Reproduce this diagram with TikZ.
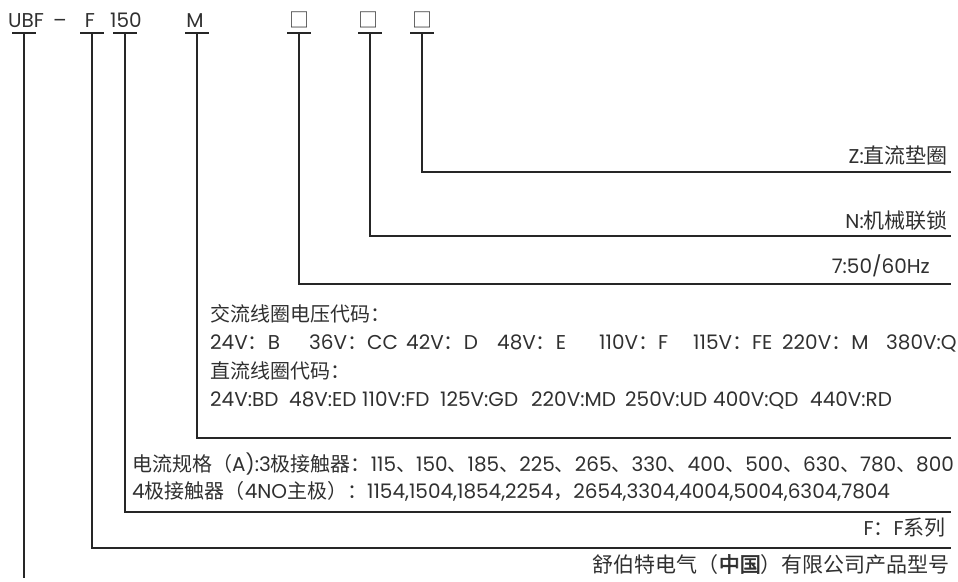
\documentclass[tikz,border=0pt]{standalone}
\usepackage{fontspec}
\setmainfont{Poppins}
\newfontfamily\cjk{Noto Sans CJK SC}
\newfontfamily\cjkL[Scale=1.05]{Noto Sans CJK SC}
\newfontfamily\cjkb[FakeBold=2.5,Scale=1.05]{Noto Sans CJK SC}
\newcommand{\zh}[1]{{\cjk #1}}
\newcommand{\zhL}[1]{{\cjkL #1}}
\newcommand{\zhb}[1]{{\cjkb #1}}
\definecolor{ink}{HTML}{262626}
\definecolor{txt}{HTML}{303030}
\begin{document}
\begin{tikzpicture}[x=1pt,y=-1pt,
  lbl/.style={inner sep=0pt,text=txt,font=\fontsize{20}{24}\selectfont},
  toplbl/.style={lbl,anchor=base},
  rlbl/.style={lbl,anchor=base east},
  llbl/.style={lbl,anchor=base west},
  wire/.style={draw=ink,line width=2.8pt},
  bar/.style={draw=ink,line width=2.8pt}]
\useasboundingbox (0,0) rectangle (958,581);
% top code
\node[toplbl] (tU) at (26,27) {UBF};
\node[toplbl] (tD) at (60,27) {–};
\node[toplbl] (tF) at (90,27) {F};
\node[toplbl] (tN) at (126,27) {150};
\node[toplbl] (tM) at (195,27) {M};
\node[toplbl] (tB1) at (299,27) {\zh{□}};
\node[toplbl] (tB2) at (368,27) {\zh{□}};
\node[toplbl] (tB3) at (422,27) {\zh{□}};
% column tops
\coordinate (cU) at (24,33);
\coordinate (cF) at (92,33);
\coordinate (cN) at (125,33);
\coordinate (cM) at (197,33);
\coordinate (cB1) at (299,33);
\coordinate (cB2) at (370,33);
\coordinate (cB3) at (422,33);
\foreach \c in {cU,cF,cN,cM,cB1,cB2,cB3}
  \draw[bar] ([xshift=-12pt]\c) -- ([xshift=12pt]\c);
% ends
\coordinate (eU) at (24,578);
\coordinate (eF) at (951,548);
\coordinate (eN) at (951,512);
\coordinate (eM) at (951,438);
\coordinate (eB1) at (951,284);
\coordinate (eB2) at (951,236);
\coordinate (eB3) at (951,172);
\draw[wire] (cU) -- (eU);
\draw[wire] (cF) |- (eF);
\draw[wire] (cN) |- (eN);
\draw[wire] (cM) |- (eM);
\draw[wire] (cB1) |- (eB1);
\draw[wire] (cB2) |- (eB2);
\draw[wire] (cB3) |- (eB3);
% labels
\node[rlbl] (lZ) at (948,163) {Z:\zhL{直流垫圈}};
\node[rlbl] (lN) at (948,228) {N:\zhL{机械联锁}};
\node[rlbl] (lH) at (930,273) {7:50/60Hz};
\node[llbl] (ac) at (210,321) {\zh{交流线圈电压代码：}};
\node[llbl] (a1) at (210,349) {24V\zh{：}B};
\node[llbl] (a2) at (309,349) {36V\zh{：}CC};
\node[llbl] (a3) at (406,349) {42V\zh{：}D};
\node[llbl] (a4) at (497,349) {48V\zh{：}E};
\node[llbl] (a5) at (599,349) {110V\zh{：}F};
\node[llbl] (a6) at (693,349) {115V\zh{：}FE};
\node[llbl] (a7) at (782,349) {220V\zh{：}M};
\node[llbl] (a8) at (886,349) {380V:Q};
\node[llbl] (dc) at (210,378) {\zh{直流线圈代码：}};
\node[llbl] (d1) at (210,406) {24V:BD};
\node[llbl] (d2) at (289,406) {48V:ED};
\node[llbl] (d3) at (362,406) {110V:FD};
\node[llbl] (d4) at (440,406) {125V:GD};
\node[llbl] (d5) at (531,406) {220V:MD};
\node[llbl] (d6) at (625,406) {250V:UD};
\node[llbl] (d7) at (713,406) {400V:QD};
\node[llbl] (d8) at (810,406) {440V:RD};
\node[llbl] (i1) at (132,471) {\zh{电流规格（}A):3\zh{极接触器：}115\zh{、}150\zh{、}185\zh{、}225\zh{、}265\zh{、}330\zh{、}400\zh{、}500\zh{、}630\zh{、}780\zh{、}800};
\node[llbl] (i2) at (132,498) {4\zh{极接触器（}4NO\zh{主极）：}1154,1504,1854,2254\zh{，}2654,3304,4004,5004,6304,7804};
\node[rlbl] (lF) at (946,535) {F\zh{：}F\zhL{系列}};
\node[rlbl] (lC) at (950,572) {\zhL{舒伯特电气（}\zhb{中国}\zhL{）有限公司产品型号}};
\end{tikzpicture}
\end{document}
